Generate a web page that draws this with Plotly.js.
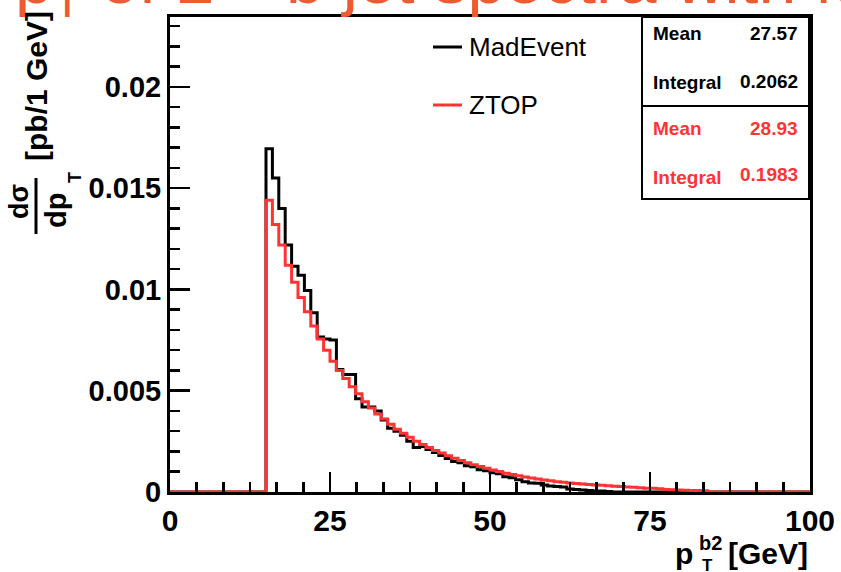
<!DOCTYPE html>
<html><head><meta charset="utf-8">
<script src="https://cdn.plot.ly/plotly-3.0.1.min.js"></script>
<style>html,body{margin:0;padding:0;background:#fff}#chart{width:841px;height:572px}</style>
</head><body><div id="chart"></div>
<script>
// ---- data (pb / 1 GeV, 1-GeV bins from 0 to 100 GeV) ----
const binLowEdges = [0,1,2,3,4,5,6,7,8,9,10,11,12,13,14,15,16,17,18,19,20,21,22,23,24,25,26,27,28,29,30,31,32,33,34,35,36,37,38,39,40,41,42,43,44,45,46,47,48,49,50,51,52,53,54,55,56,57,58,59,60,61,62,63,64,65,66,67,68,69,70,71,72,73,74,75,76,77,78,79,80,81,82,83,84,85,86,87,88,89,90,91,92,93,94,95,96,97,98,99,100];
const madEvent = [
  0,0,0,0,0,0,0,0,0,0, 0,0,0,0,0,
  0.01695,0.0155,0.0140,0.0122,0.01115,0.0107,0.00995,0.00885,0.00765,0.00755,
  0.0075,0.00605,0.0058,0.0058,0.0046,0.0042,0.0042,0.0040,0.00355,0.00315,
  0.0030,0.0028,0.0025,0.0022,0.00225,0.0021,0.00195,0.0018,0.00165,0.0015,
  0.00145,0.0013,0.00125,0.0011,0.00105,0.00095,0.0009,0.00075,0.0007,0.0006,
  0.0005,0.00045,0.00043,0.00035,0.0003,0.00027,0.00025,0.00015,0.00012,0.0001,
  0.00008,0.00005,0.00005,0.00003,0,0,0,0,0,0,
  0,0,0,0,0,0,0,0,0,0,
  0,0,0,0,0,0,0,0,0,0,
  0,0,0,0,0
];
const ztop = [
  0,0,0,0,0,0,0,0,0,0, 0,0,0,0,0,
  0.0144,0.0132,0.0122,0.0112,0.01035,0.0096,0.0089,0.0082,0.00755,0.0070,
  0.00645,0.0060,0.0056,0.0052,0.00485,0.00445,0.00415,0.00385,0.0036,0.00335,
  0.0031,0.0029,0.0027,0.0025,0.00235,0.0022,0.00205,0.00192,0.00179,0.00167,
  0.00156,0.00145,0.00135,0.00126,0.00117,0.00109,0.00101,0.00093,0.00086,0.0008,
  0.00074,0.00069,0.00064,0.00059,0.00055,0.00051,0.00048,0.00045,0.00042,0.00039,
  0.00037,0.00035,0.00033,0.00031,0.00029,0.00027,0.00025,0.00023,0.00021,0.00019,
  0.00018,0.00016,0.00012,0.00011,0.0001,0.00009,0.00008,0.00007,0.00006,0,
  0,0,0,0,0,0,0,0,0,0,
  0,0,0,0,0
];
const seriesNames = ["MadEvent","ZTOP"];
const statsMadEvent = {mean:"27.57", integral:"0.2062"};
const statsZtop = {mean:"28.93", integral:"0.1983"};
const xTickVals = [0,25,50,75,100];
const xTickText = ["0","25","50","75","100"];
const yTickVals = [0,0.005,0.01,0.015,0.02];
const yTickText = ["0","0.005","0.01","0.015","0.02"];
const slideTitle = "p<sub>T</sub> of 2<sup>nd</sup> b jet spectra with MadEvent";

// ---- drawing ----
const BLACK = "#000000", RED = "#ff3333", ORANGE = "#ee5a32";
const FONT = "Liberation Sans, Arial, Helvetica, sans-serif";
const W = 841, H = 572, ML = 170, MR = 31, MT = 17, MB = 80;
const PW = W - ML - MR, PH = H - MT - MB;
const px = v => (v - ML) / PW;          // pixel -> paper x
const py = v => (H - MB - v) / PH;      // pixel -> paper y

function stepY(vals){ return vals.concat([vals[vals.length-1]]); }

const traces = [
  {x: binLowEdges, y: stepY(madEvent), type:"scatter", mode:"lines", name:seriesNames[0],
   line:{shape:"hv", color:BLACK, width:3}, showlegend:false, hoverinfo:"skip"},
  {x: binLowEdges, y: stepY(ztop), type:"scatter", mode:"lines", name:seriesNames[1],
   line:{shape:"hv", color:RED, width:3}, showlegend:false, hoverinfo:"skip"}
];

function ann(text, x, y, opt){
  return Object.assign({text, x:px(x), y:py(y), xref:"paper", yref:"paper", showarrow:false,
    xanchor:"center", yanchor:"middle",
    font:{family:FONT, size:20, color:BLACK, weight:"bold"}}, opt||{});
}

const annotations = [
  // stats box
  ann("Mean", 651, 34, {xanchor:"left", font:{family:FONT,size:19,color:BLACK,weight:"bold"}}),
  ann(statsMadEvent.mean, 800, 34, {xanchor:"right", font:{family:FONT,size:19,color:BLACK,weight:"bold"}}),
  ann("Integral", 651, 83, {xanchor:"left", font:{family:FONT,size:19,color:BLACK,weight:"bold"}}),
  ann(statsMadEvent.integral, 800, 81, {xanchor:"right", font:{family:FONT,size:19,color:BLACK,weight:"bold"}}),
  ann("Mean", 651, 128, {xanchor:"left", font:{family:FONT,size:19,color:RED,weight:"bold"}}),
  ann(statsZtop.mean, 800, 128, {xanchor:"right", font:{family:FONT,size:19,color:RED,weight:"bold"}}),
  ann("Integral", 651, 177, {xanchor:"left", font:{family:FONT,size:19,color:RED,weight:"bold"}}),
  ann(statsZtop.integral, 800, 175, {xanchor:"right", font:{family:FONT,size:19,color:RED,weight:"bold"}}),
  // legend
  ann(seriesNames[0], 467, 47, {xanchor:"left", font:{family:FONT,size:26,color:BLACK,weight:"normal"}}),
  ann(seriesNames[1], 467, 105, {xanchor:"left", font:{family:FONT,size:26,color:BLACK,weight:"normal"}}),
  // x title
  ann("p", 684, 553, {font:{family:FONT,size:30,color:BLACK,weight:"bold"}}),
  ann("b2", 710, 543, {font:{family:FONT,size:20,color:BLACK,weight:"bold"}}),
  ann("T", 707, 565, {font:{family:FONT,size:17,color:BLACK,weight:"bold"}}),
  ann("[GeV]", 810, 553, {xanchor:"right", font:{family:FONT,size:30,color:BLACK,weight:"bold"}}),
  // y title
  ann("[pb/1 GeV]", 36, 86, {textangle:-90, font:{family:FONT,size:30,color:BLACK,weight:"bold"}}),
  ann("d\u03c3", 19, 202, {textangle:-90, font:{family:FONT,size:27,color:BLACK,weight:"bold"}}),
  ann("dp", 56, 211, {textangle:-90, font:{family:FONT,size:29,color:BLACK,weight:"bold"}}),
  ann("T", 75, 178, {textangle:-90, font:{family:FONT,size:18,color:BLACK,weight:"bold"}})
];

const shapes = [
  // cropped slide title (only its lower part lies inside the picture)
  {type:"line", xref:"paper", yref:"paper", x0:px(15), x1:px(1200), y0:py(-17), y1:py(-17),
   line:{color:"rgba(0,0,0,0)", width:1},
   label:{text:slideTitle, textposition:"start", xanchor:"left", yanchor:"middle", padding:0, textangle:0,
          font:{family:FONT, size:68, color:ORANGE}}},
  // stats box
  {type:"rect", xref:"paper", yref:"paper", x0:px(642), x1:px(809), y0:py(199), y1:py(17),
   line:{color:BLACK, width:2}, fillcolor:"#ffffff", layer:"above"},
  {type:"line", xref:"paper", yref:"paper", x0:px(642), x1:px(809), y0:py(106), y1:py(106),
   line:{color:BLACK, width:2}, layer:"above"},
  // legend samples
  {type:"line", xref:"paper", yref:"paper", x0:px(433), x1:px(462), y0:py(47), y1:py(47), line:{color:BLACK, width:3}},
  {type:"line", xref:"paper", yref:"paper", x0:px(433), x1:px(462), y0:py(105), y1:py(105), line:{color:RED, width:3}},
  // fraction bar in y title
  {type:"line", xref:"paper", yref:"paper", x0:px(36), x1:px(36), y0:py(178), y1:py(234), line:{color:BLACK, width:3}}
];

const layout = {
  width:W, height:H, margin:{l:ML, r:MR, t:MT, b:MB},
  paper_bgcolor:"#ffffff", plot_bgcolor:"#ffffff", showlegend:false,
  xaxis:{range:[0,100], showline:true, mirror:true, linecolor:BLACK, linewidth:3,
    ticks:"inside", tickvals:xTickVals, ticktext:xTickText, ticklen:20, tickwidth:2.5, tickcolor:BLACK,
    minor:{ticks:"inside", dtick:25/6, tick0:0, ticklen:10, tickwidth:2.5, tickcolor:BLACK, showgrid:false},
    showgrid:false, zeroline:false, fixedrange:true,
    tickfont:{family:FONT, size:30, color:BLACK, weight:"bold"}},
  yaxis:{range:[0,0.02345], showline:true, mirror:true, linecolor:BLACK, linewidth:3,
    ticks:"inside", tickvals:yTickVals, ticktext:yTickText, ticklen:20, tickwidth:2.5, tickcolor:BLACK,
    minor:{ticks:"inside", dtick:0.001, tick0:0, ticklen:10, tickwidth:2.5, tickcolor:BLACK, showgrid:false},
    showgrid:false, zeroline:false, fixedrange:true,
    tickfont:{family:FONT, size:29, color:BLACK, weight:"bold"}},
  annotations, shapes
};

Plotly.newPlot("chart", traces, layout, {staticPlot:true, displayModeBar:false});
</script>
</body></html>
